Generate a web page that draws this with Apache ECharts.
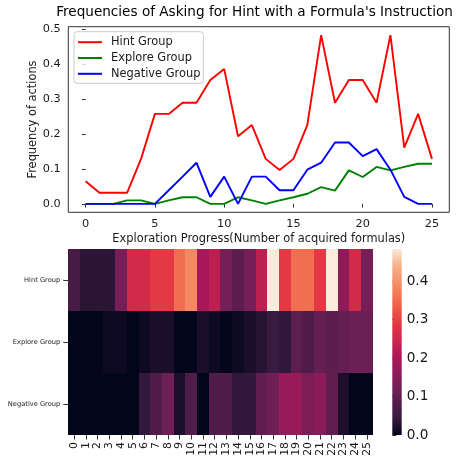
<!DOCTYPE html>
<html>
<head>
<meta charset="utf-8">
<script src="https://cdn.jsdelivr.net/npm/echarts@6/dist/echarts.min.js"></script>
<style>
  html, body { margin: 0; padding: 0; background: #fff; }
  #chart { width: 457px; height: 462px; }
</style>
</head>
<body>
<div id="chart"></div>
<script>
// Progress steps (number of acquired formulas)
const steps = ['0','1','2','3','4','5','6','7','8','9','10','11','12','13','14','15','16','17','18','19','20','21','22','23','24','25'];

// Frequency of asking for a hint at each step, per group
const hintGroup = [0.065, 0.032, 0.032, 0.032, 0.129, 0.258, 0.258, 0.290, 0.290, 0.355, 0.387, 0.194, 0.226,
                   0.129, 0.097, 0.129, 0.226, 0.484, 0.290, 0.355, 0.355, 0.290, 0.484, 0.161, 0.258, 0.129];
const exploreGroup = [0, 0, 0, 0.010, 0.010, 0, 0.010, 0.019, 0.019, 0, 0, 0.019, 0.010,
                      0, 0.010, 0.019, 0.029, 0.048, 0.038, 0.096, 0.077, 0.106, 0.096, 0.106, 0.115, 0.115];
const negativeGroup = [0, 0, 0, 0, 0, 0, 0.039, 0.078, 0.118, 0.020, 0.078, 0, 0.078,
                       0.078, 0.039, 0.039, 0.098, 0.118, 0.176, 0.176, 0.137, 0.157, 0.098, 0.020, 0, 0];

const groupNames = ['Hint Group', 'Explore Group', 'Negative Group'];
const yTicks = [0, 0.1, 0.2, 0.3, 0.4, 0.5];
const xTicks = [0, 5, 10, 15, 20, 25];
const colorbarTicks = [0, 0.1, 0.2, 0.3, 0.4];

const FONT = 'DejaVu Sans';
const TXT = '#1a1a1a';
const AX = '#333';

// "rocket"-style sequential palette
const rocket = ['#03051a', '#35193e', '#521c4a', '#701f57', '#8e1b58', '#ad1759', '#c7254e',
                '#e13342', '#ea554a', '#f37651', '#f59570', '#f6b48f', '#faebdd'];

const groupValues = [hintGroup, exploreGroup, negativeGroup];
const maxVal = Math.max(...hintGroup, ...exploreGroup, ...negativeGroup);

const heatData = [];
groupValues.forEach((vals, r) => vals.forEach((v, c) => heatData.push([c, r, v])));

// Heatmap cells: edges snapped to whole pixels so neighbouring cells meet without seams
function renderCell(params, api) {
  const c = api.value(0), r = api.value(1);
  const center = api.coord([c, r]);
  const size = api.size([1, 1]);
  const x0 = Math.round(center[0] - size[0] / 2), x1 = Math.round(center[0] + size[0] / 2);
  const y0 = Math.round(center[1] - size[1] / 2), y1 = Math.round(center[1] + size[1] / 2);
  return {
    type: 'rect',
    shape: { x: x0, y: y0, width: x1 - x0, height: y1 - y0 },
    style: { fill: api.visual('color') }
  };
}

// Colour bar: spans the value range on its own axis
function renderColorbar(params, api) {
  const top = api.coord([0.5, api.value(1)]);
  const bottom = api.coord([0.5, api.value(0)]);
  const cs = params.coordSys;
  const stops = rocket.slice().reverse().map((col, i) => ({ offset: i / (rocket.length - 1), color: col }));
  return {
    type: 'rect',
    shape: { x: cs.x, y: top[1], width: cs.width, height: bottom[1] - top[1] },
    style: { fill: new echarts.graphic.LinearGradient(0, 0, 0, 1, stops) }
  };
}

const chart = echarts.init(document.getElementById('chart'), null, { renderer: 'canvas' });
chart.setOption({
  animation: false,
  backgroundColor: '#fff',
  textStyle: { fontFamily: FONT },
  title: {
    text: "Frequencies of Asking for Hint with a Formula's Instruction",
    left: 254.5, top: 5.5, textAlign: 'center', padding: 0,
    textStyle: { fontFamily: FONT, fontSize: 13.6, fontWeight: 'normal', color: '#000' }
  },
  legend: {
    orient: 'vertical', left: 74, top: 31.7,
    data: groupNames, selectedMode: false,
    icon: 'rect', itemWidth: 24, itemHeight: 2, itemGap: 4.8,
    padding: [5, 3, 4, 4],
    borderColor: '#ccc', borderWidth: 1, borderRadius: 3,
    backgroundColor: 'rgba(255,255,255,0.8)',
    textStyle: { fontFamily: FONT, fontSize: 11.4, color: TXT, padding: [0, 0, 0, 4] }
  },
  grid: [
    { left: 68.3, top: 26.7, width: 381, height: 185.6, show: true, borderColor: AX, borderWidth: 1, containLabel: false },
    { left: 68.3, top: 249, width: 304.4, height: 186, containLabel: false },
    { left: 392.3, top: 249, width: 9.4, height: 186, containLabel: false }
  ],
  xAxis: [
    {
      type: 'value', gridIndex: 0, min: -1.25, max: 26.25,
      axisLine: { show: false }, splitLine: { show: false },
      axisTick: { show: true, length: 3.7, lineStyle: { color: AX }, customValues: xTicks },
      axisLabel: { fontSize: 11.3, color: TXT, margin: 6, customValues: xTicks, fontFamily: FONT },
      name: 'Exploration Progress(Number of acquired formulas)',
      nameLocation: 'middle', nameGap: 21.5, nameMoveOverlap: false,
      nameTextStyle: { fontSize: 11.4, color: TXT, fontFamily: FONT }
    },
    {
      type: 'category', gridIndex: 1, data: steps,
      axisLine: { show: false }, splitLine: { show: false },
      axisTick: { show: true, length: 4.5, alignWithLabel: true, lineStyle: { color: AX } },
      axisLabel: { rotate: 90, fontSize: 10.9, color: TXT, margin: 7, interval: 0, fontFamily: FONT }
    },
    {
      type: 'value', gridIndex: 2, min: 0, max: 1, show: false
    }
  ],
  yAxis: [
    {
      type: 'value', gridIndex: 0, min: -0.0242, max: 0.508,
      axisLine: { show: false }, splitLine: { show: false },
      axisTick: { show: true, length: 3.7, lineStyle: { color: AX }, customValues: yTicks },
      axisLabel: { fontSize: 11.3, color: TXT, margin: 7.5, customValues: yTicks,
                   formatter: v => v.toFixed(1), fontFamily: FONT },
      name: 'Frequency of actions', nameLocation: 'middle', nameGap: 30, nameMoveOverlap: false,
      nameTextStyle: { fontSize: 11.4, color: TXT, fontFamily: FONT }
    },
    {
      type: 'category', gridIndex: 1, data: groupNames, inverse: true,
      axisLine: { show: false }, splitLine: { show: false },
      axisTick: { show: true, length: 5, alignWithLabel: true, lineStyle: { color: AX } },
      axisLabel: { fontSize: 6.7, color: TXT, margin: 8, fontFamily: FONT }
    },
    {
      type: 'value', gridIndex: 2, position: 'right', min: 0, max: maxVal,
      axisLine: { show: false }, splitLine: { show: false },
      axisTick: { show: true, length: 4, lineStyle: { color: AX }, customValues: colorbarTicks },
      axisLabel: { fontSize: 13.6, color: TXT, margin: 5, customValues: colorbarTicks,
                   formatter: v => v.toFixed(1), fontFamily: FONT }
    }
  ],
  visualMap: {
    type: 'continuous', min: 0, max: maxVal, seriesIndex: 3, dimension: 2,
    show: false,
    inRange: { color: rocket }
  },
  series: [
    { name: 'Hint Group', type: 'line', xAxisIndex: 0, yAxisIndex: 0, showSymbol: false,
      data: hintGroup.map((v, i) => [i, v]), lineStyle: { color: '#ff0000', width: 1.9 }, itemStyle: { color: '#ff0000' } },
    { name: 'Explore Group', type: 'line', xAxisIndex: 0, yAxisIndex: 0, showSymbol: false,
      data: exploreGroup.map((v, i) => [i, v]), lineStyle: { color: '#008000', width: 1.9 }, itemStyle: { color: '#008000' } },
    { name: 'Negative Group', type: 'line', xAxisIndex: 0, yAxisIndex: 0, showSymbol: false,
      data: negativeGroup.map((v, i) => [i, v]), lineStyle: { color: '#0000ff', width: 1.9 }, itemStyle: { color: '#0000ff' } },
    { name: 'heat', type: 'custom', xAxisIndex: 1, yAxisIndex: 1, data: heatData,
      renderItem: renderCell, encode: { x: 0, y: 1 }, silent: true },
    { name: 'colorbar', type: 'custom', xAxisIndex: 2, yAxisIndex: 2, data: [[0, maxVal]],
      renderItem: renderColorbar, encode: { y: [0, 1] }, silent: true }
  ]
});
</script>
</body>
</html>
